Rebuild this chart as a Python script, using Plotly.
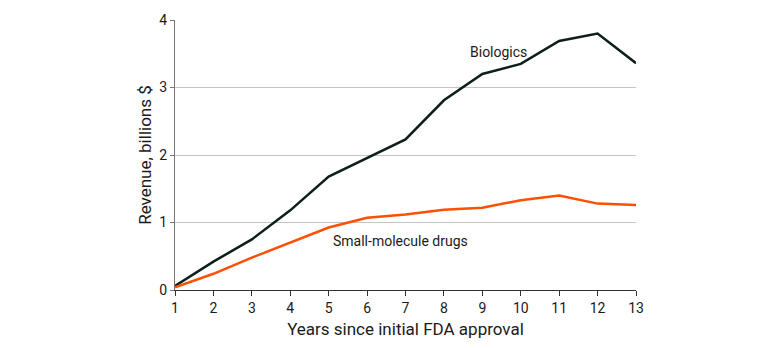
import plotly.graph_objects as go

years = list(range(1, 14))
biologics = [0.06, 0.42, 0.75, 1.18, 1.68, 1.95, 2.23, 2.81, 3.20, 3.35, 3.69, 3.80, 3.36]
small_molecule = [0.04, 0.24, 0.48, 0.70, 0.925, 1.07, 1.12, 1.19, 1.22, 1.33, 1.40, 1.28, 1.26]

FONT = "Liberation Sans Narrow, Roboto, Arial"

fig = go.Figure()
fig.add_trace(go.Scatter(x=years, y=biologics, mode="lines",
                         line=dict(color="#0e1f1b", width=2.5), showlegend=False))
fig.add_trace(go.Scatter(x=years, y=small_molecule, mode="lines",
                         line=dict(color="#ff4f00", width=2.5), showlegend=False))

fig.add_annotation(x=9.43, y=3.52, text="Biologics", showarrow=False,
                   font=dict(family=FONT, size=14, color="#1a1a1a"))
fig.add_annotation(x=6.88, y=0.72, text="Small-molecule drugs", showarrow=False,
                   font=dict(family=FONT, size=14, color="#1a1a1a"))

fig.update_layout(
    width=780, height=348,
    margin=dict(l=175, r=144, t=18, b=55),
    paper_bgcolor="white", plot_bgcolor="white",
    font=dict(family=FONT, size=14, color="#1a1a1a"),
    xaxis=dict(range=[1, 13], tickmode="array", tickvals=years,
               showgrid=False, zeroline=False,
               showline=True, linecolor="#333333", linewidth=1.2,
               ticks="outside", ticklen=5, tickcolor="#333333",
               title=dict(text="Years since initial FDA approval", standoff=8)),
    yaxis=dict(range=[0, 4], tickvals=[0, 1, 2, 3, 4],
               showgrid=True, gridcolor="#c4c4c4", gridwidth=1.2,
               zeroline=False,
               showline=True, linecolor="#777777", linewidth=1,
               ticks="outside", ticklen=4, tickcolor="#777777",
               title=dict(text="Revenue, billions $", standoff=3)),
)

fig.write_html("out.html")
